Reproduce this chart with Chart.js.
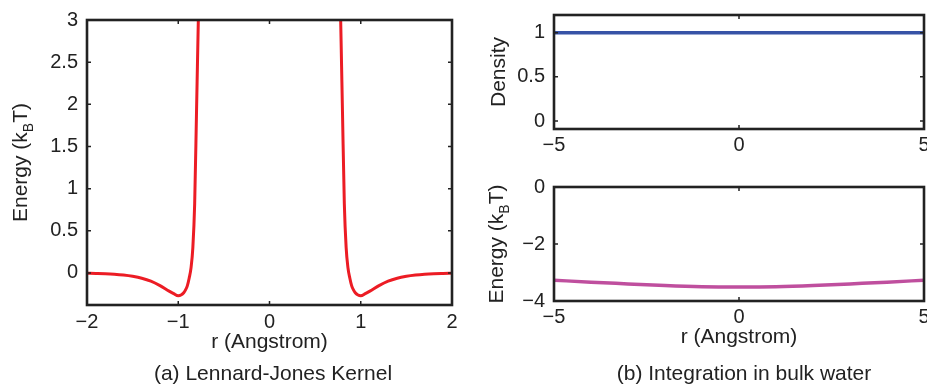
<!DOCTYPE html>
<html><head><meta charset="utf-8">
<script src="https://cdn.jsdelivr.net/npm/chart.js@4.4.1/dist/chart.umd.min.js"></script>
<style>
html,body{margin:0;padding:0;background:#fff;}
#wrap{position:relative;width:927px;height:384px;overflow:hidden;background:#fff;}
canvas{position:absolute;left:0;top:0;}
.cap{position:absolute;font-family:'Liberation Sans',Arial,sans-serif;font-size:21px;color:#222;white-space:nowrap;transform:translateX(-50%);line-height:1;}
</style></head><body>
<div id="wrap">
<canvas id="c1" width="927" height="384"></canvas>
<canvas id="c2" width="927" height="384"></canvas>
<canvas id="c3" width="927" height="384"></canvas>
<div class="cap" style="left:273px;top:362px;">(a) Lennard-Jones Kernel</div>
<div class="cap" style="left:744px;top:362px;">(b) Integration in bulk water</div>
</div>
<script>
// ---- data ----
const rLJLeft  = [-2.0,-1.9,-1.8,-1.7,-1.6,-1.5,-1.4,-1.3,-1.2,-1.1,-1.05,-1.0,-0.97,-0.94,-0.92,-0.90,-0.88,-0.86,-0.84,-0.82,-0.80,-0.79,-0.78,-0.77];
const eLJLeft  = [-0.004,-0.006,-0.009,-0.015,-0.025,-0.040,-0.062,-0.097,-0.150,-0.215,-0.245,-0.270,-0.262,-0.235,-0.200,-0.150,-0.060,0.060,0.300,0.820,1.900,2.450,3.000,3.500];
const rLJRight = [0.77,0.78,0.79,0.80,0.82,0.84,0.86,0.88,0.90,0.92,0.94,0.97,1.0,1.05,1.1,1.2,1.3,1.4,1.5,1.6,1.7,1.8,1.9,2.0];
const eLJRight = [3.500,3.000,2.450,1.900,0.820,0.300,0.060,-0.060,-0.150,-0.200,-0.235,-0.262,-0.270,-0.245,-0.215,-0.150,-0.097,-0.062,-0.040,-0.025,-0.015,-0.009,-0.006,-0.004];
const ljXTicks = [-2,-1,0,1,2];
const ljYTicks = [0,0.5,1,1.5,2,2.5,3];

const rBulk = [-5,-4,-3,-2,-1,0,1,2,3,4,5];
const densityBulk = [1,1,1,1,1,1,1,1,1,1,1];
const energyBulk = [-3.27,-3.34,-3.40,-3.46,-3.50,-3.51,-3.50,-3.46,-3.40,-3.34,-3.27];
const bulkXTicks = [-5,0,5];
const densYTicks = [0,0.5,1];
const energyYTicks = [-4,-2,0];

// ---- helpers ----
const FONT = "'Liberation Sans', Arial, sans-serif";
const INK = '#222';
const W = 927, H = 384, YW = 70;
const pts = (xs, ys) => xs.map((x, i) => ({x: x, y: ys[i]}));
const fmt = v => String(v).replace('-', '\u2212');

function makeFrame(yTitle) {
  return {
    id: 'frame',
    afterDatasetsDraw(chart) {
      const {ctx, chartArea: a, scales} = chart;
      ctx.save();
      ctx.strokeStyle = INK;
      ctx.lineWidth = 1.5;
      ctx.beginPath();
      scales.x.ticks.forEach(t => {
        const px = scales.x.getPixelForValue(t.value);
        ctx.moveTo(px, a.bottom); ctx.lineTo(px, a.bottom - 4);
        ctx.moveTo(px, a.top); ctx.lineTo(px, a.top + 4);
      });
      scales.y.ticks.forEach(t => {
        const py = scales.y.getPixelForValue(t.value);
        ctx.moveTo(a.left, py); ctx.lineTo(a.left + 4, py);
        ctx.moveTo(a.right, py); ctx.lineTo(a.right - 4, py);
      });
      ctx.stroke();
      ctx.lineWidth = 2.6;
      ctx.strokeRect(a.left, a.top, a.right - a.left, a.bottom - a.top);
      // rotated y title with optional subscript
      const cy = (a.top + a.bottom) / 2;
      ctx.translate(yTitle.x, cy);
      ctx.rotate(-Math.PI / 2);
      ctx.fillStyle = INK;
      ctx.textBaseline = 'alphabetic';
      ctx.textAlign = 'left';
      let total = 0;
      const widths = yTitle.parts.map(p => {
        ctx.font = (p.sub ? '14px ' : '21px ') + FONT;
        const w = ctx.measureText(p.text).width;
        total += w;
        return w;
      });
      let xx = -total / 2;
      yTitle.parts.forEach((p, i) => {
        ctx.font = (p.sub ? '14px ' : '21px ') + FONT;
        ctx.fillText(p.text, xx, p.sub ? 6 : 0);
        xx += widths[i];
      });
      ctx.restore();
    }
  };
}

function makeChart(id, o) {
  const titleLH = 21 * 1.2;
  return new Chart(document.getElementById(id), {
    type: 'line',
    data: {datasets: o.datasets},
    options: {
      responsive: false,
      animation: false,
      devicePixelRatio: 1,
      layout: {padding: {left: o.area.l - YW, top: o.area.t, right: W - o.area.r, bottom: H - o.area.b - o.xh}},
      plugins: {legend: {display: false}, tooltip: {enabled: false}},
      elements: {point: {radius: 0}},
      scales: {
        x: {
          type: 'linear', min: o.xMin, max: o.xMax,
          afterBuildTicks: s => { s.ticks = o.xTicks.map(v => ({value: v})); },
          afterFit: s => { s.height = o.xh; s.paddingLeft = 0; s.paddingRight = 0; },
          grid: {display: false, drawTicks: false},
          border: {display: false},
          ticks: {padding: o.xPad, color: INK, font: {family: FONT, size: 20}, callback: fmt, maxRotation: 0, autoSkip: false},
          title: o.xTitle ? {display: true, text: o.xTitle, color: INK, font: {family: FONT, size: 21},
            padding: {top: 0, bottom: o.area.b + o.xh - titleLH / 2 - o.xTitleY}} : {display: false}
        },
        y: {
          type: 'linear', min: o.yMin, max: o.yMax,
          afterBuildTicks: s => { s.ticks = o.yTicks.map(v => ({value: v})); },
          afterFit: s => { s.width = YW; s.paddingTop = 0; s.paddingBottom = 0; },
          grid: {display: false, drawTicks: false},
          border: {display: false},
          ticks: {padding: 9, color: INK, font: {family: FONT, size: 20}, callback: fmt, autoSkip: false}
        }
      }
    },
    plugins: [makeFrame(o.yTitle)]
  });
}

const energyTitle = [{text: 'Energy (k'}, {text: 'B', sub: true}, {text: 'T)'}];

makeChart('c1', {
  area: {l: 87, t: 20, r: 452, b: 305}, xh: 52, xPad: 5,
  xMin: -2, xMax: 2, yMin: -0.38, yMax: 3,
  xTicks: ljXTicks, yTicks: ljYTicks,
  xTitle: 'r (Angstrom)', xTitleY: 342,
  yTitle: {x: 27, parts: energyTitle},
  datasets: [
    {data: pts(rLJLeft, eLJLeft), borderColor: '#ec1c24', borderWidth: 3, cubicInterpolationMode: 'monotone', fill: false},
    {data: pts(rLJRight, eLJRight), borderColor: '#ec1c24', borderWidth: 3, cubicInterpolationMode: 'monotone', fill: false}
  ]
});

makeChart('c2', {
  area: {l: 554, t: 15, r: 924, b: 129}, xh: 30, xPad: 4,
  xMin: -5, xMax: 5, yMin: -0.09, yMax: 1.2,
  xTicks: bulkXTicks, yTicks: densYTicks,
  yTitle: {x: 505, parts: [{text: 'Density'}]},
  datasets: [
    {data: pts(rBulk, densityBulk), borderColor: '#3753a6', borderWidth: 3.5, fill: false}
  ]
});

makeChart('c3', {
  area: {l: 554, t: 187, r: 924, b: 301}, xh: 52, xPad: 4,
  xMin: -5, xMax: 5, yMin: -4, yMax: 0,
  xTicks: bulkXTicks, yTicks: energyYTicks,
  xTitle: 'r (Angstrom)', xTitleY: 337,
  yTitle: {x: 503, parts: energyTitle},
  datasets: [
    {data: pts(rBulk, energyBulk), borderColor: '#bf4f9e', borderWidth: 3.5, cubicInterpolationMode: 'monotone', fill: false}
  ]
});
</script>
</body></html>
